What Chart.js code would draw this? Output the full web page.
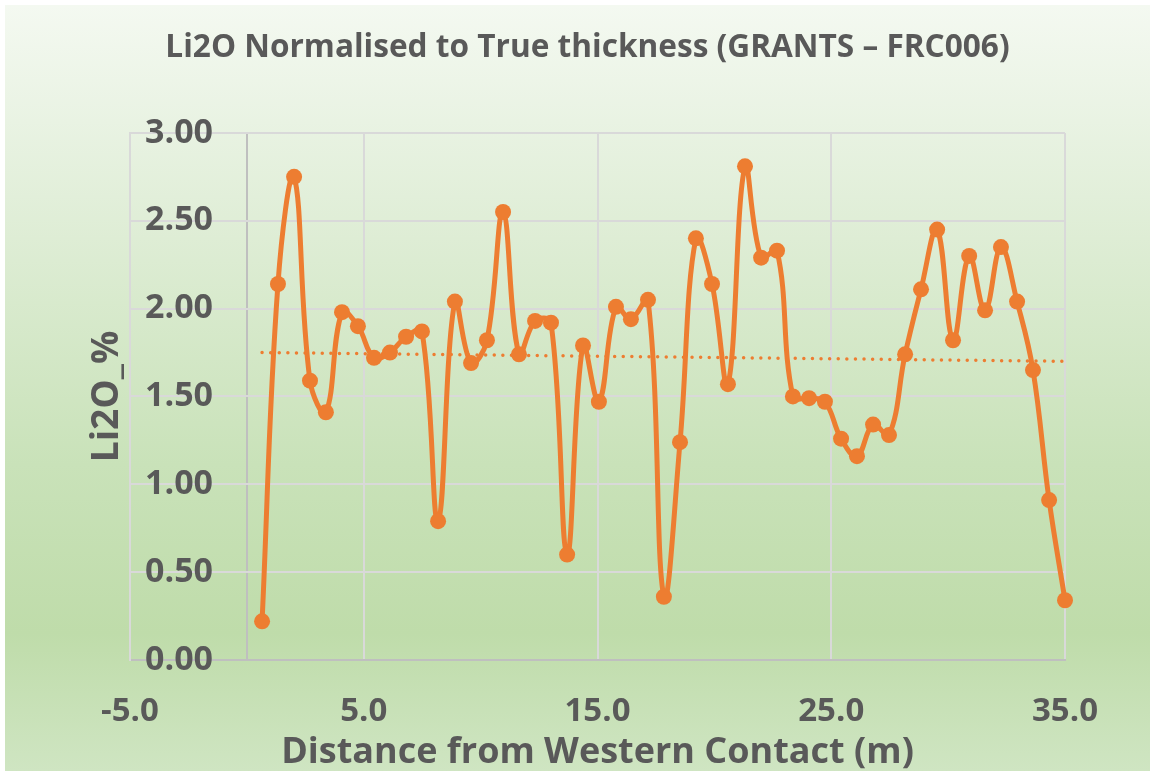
<!DOCTYPE html>
<html>
<head>
<meta charset="utf-8">
<script src="https://cdn.jsdelivr.net/npm/chart.js@4/dist/chart.umd.min.js"></script>
<style>
    body { margin: 0; background: #ffffff; }
    #wrap {
        position: absolute; left: 5px; top: 5px; width: 1145px; height: 766px;
        background: linear-gradient(to bottom, #f4f9f1 0%, #e2efda 25%, #c9e2b9 60%, #bfdcaa 82%, #cfe5c2 100%);
    }
</style>
</head>
<body>
<div id="wrap"><canvas id="liChart" width="1145" height="766"></canvas></div>
<script>
// Distance from western contact (m) and Li2O %
const distances = [0.65, 1.33, 2.02, 2.70, 3.38, 4.07, 4.75, 5.44, 6.12, 6.81,
    7.49, 8.18, 8.90, 9.59, 10.27, 10.96, 11.64, 12.33, 13.01, 13.70,
    14.38, 15.06, 15.79, 16.43, 17.16, 17.84, 18.53, 19.21, 19.90, 20.58,
    21.31, 22.00, 22.68, 23.36, 24.05, 24.73, 25.42, 26.10, 26.79, 27.47,
    28.16, 28.84, 29.53, 30.21, 30.90, 31.58, 32.26, 32.95, 33.63, 34.32, 35.00];
const li2oValues = [0.22, 2.14, 2.75, 1.59, 1.41, 1.98, 1.90, 1.72, 1.75, 1.84,
    1.87, 0.79, 2.04, 1.69, 1.82, 2.55, 1.74, 1.93, 1.92, 0.60,
    1.79, 1.47, 2.01, 1.94, 2.05, 0.36, 1.24, 2.40, 2.14, 1.57,
    2.81, 2.29, 2.33, 1.50, 1.49, 1.47, 1.26, 1.16, 1.34, 1.28,
    1.74, 2.11, 2.45, 1.82, 2.30, 1.99, 2.35, 2.04, 1.65, 0.91, 0.34];
// linear trend line end values
const trendValues = [1.75, 1.70];

// 0 is where the value axis crosses, it gets a line but no label
const xTicks = [-5, 0, 5, 15, 25, 35];
const yTicks = [0, 0.5, 1, 1.5, 2, 2.5, 3];

const orange = '#ED7D31';
const textGrey = '#595959';
const fontFamily = '"Open Sans", "Liberation Sans", sans-serif';

document.addEventListener("DOMContentLoaded", function() {
    const points = distances.map((d, i) => ({ x: d, y: li2oValues[i] }));
    const trendPoints = [
        { x: distances[0], y: trendValues[0] },
        { x: distances[distances.length - 1], y: trendValues[1] }
    ];

    const ctx = document.getElementById('liChart').getContext('2d');
    new Chart(ctx, {
        type: 'scatter',
        data: {
            datasets: [{
                label: 'Li2O_%',
                data: points,
                showLine: true,
                tension: 0.4,
                borderColor: orange,
                backgroundColor: orange,
                borderWidth: 5,
                pointRadius: 8,
                pointHoverRadius: 8,
                pointBorderWidth: 0,
                clip: false,
                order: 1
            }, {
                label: 'Trend',
                data: trendPoints,
                showLine: true,
                borderColor: orange,
                borderWidth: 3.5,
                borderDash: [0, 8.6],
                borderCapStyle: 'round',
                pointRadius: 0,
                order: 2
            }]
        },
        options: {
            responsive: false,
            animation: false,
            layout: { padding: { left: 20, right: 0, top: 0, bottom: 0 } },
            plugins: {
                legend: { display: false },
                tooltip: { enabled: false },
                title: {
                    display: true,
                    text: 'Li2O Normalised to True thickness (GRANTS – FRC006)',
                    color: textGrey,
                    font: { family: fontFamily, size: 31.6, weight: 'bold' },
                    padding: { top: 24, bottom: 66 }
                }
            },
            scales: {
                x: {
                    type: 'linear',
                    min: -5,
                    max: 35,
                    afterBuildTicks: function(scale) {
                        scale.ticks = xTicks.map(v => ({ value: v }));
                    },
                    afterFit: function(scale) { scale.height = 111; },
                    grid: {
                        color: c => (c.tick && c.tick.value === 0) ? '#bfbfbf' : '#d9d9d9',
                        lineWidth: 2,
                        drawTicks: false
                    },
                    border: { color: '#bfbfbf', width: 2 },
                    ticks: {
                        padding: 32,
                        color: textGrey,
                        font: { family: fontFamily, size: 33, weight: 'bold' },
                        callback: v => v === 0 ? '' : v.toFixed(1)
                    },
                    title: {
                        display: true,
                        text: 'Distance from Western Contact (m)',
                        color: textGrey,
                        font: { family: fontFamily, size: 36, weight: 'bold' },
                        padding: { top: 0, bottom: -3 }
                    }
                },
                y: {
                    min: 0,
                    max: 3,
                    position: 'left',
                    afterBuildTicks: function(scale) {
                        scale.ticks = yTicks.map(v => ({ value: v }));
                    },
                    afterFit: function(scale) { scale.width = 105; },
                    grid: { color: '#d9d9d9', lineWidth: 2, drawTicks: false },
                    border: { color: '#d9d9d9', width: 2 },
                    ticks: {
                        mirror: true,
                        padding: 15,
                        color: textGrey,
                        font: { family: fontFamily, size: 34, weight: 'bold' },
                        callback: v => v.toFixed(2)
                    },
                    title: {
                        display: true,
                        text: 'Li2O_%',
                        color: textGrey,
                        font: { family: fontFamily, size: 37, weight: 'bold' },
                        padding: { top: 60, bottom: 0 }
                    }
                },
                // empty right margin beside the plot
                yRight: {
                    position: 'right',
                    min: 0,
                    max: 3,
                    afterFit: function(scale) { scale.width = 85; },
                    grid: { display: false },
                    border: { display: false },
                    ticks: { display: false }
                }
            }
        }
    });
});
</script>
</body>
</html>
